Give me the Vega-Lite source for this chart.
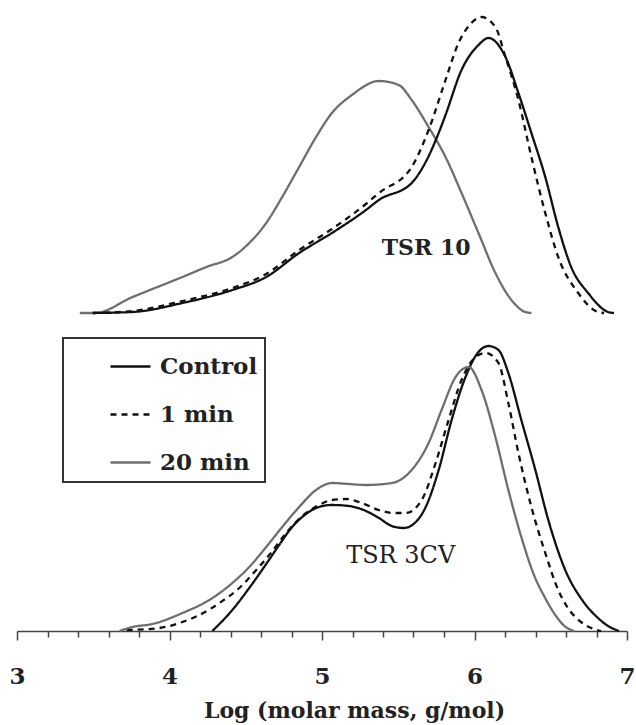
{
  "$schema": "https://vega.github.io/schema/vega-lite/v6.json",
  "width": 610,
  "height": 630,
  "autosize": {"type": "none"},
  "padding": {"left": 17, "top": 1, "right": 9, "bottom": 94},
  "background": "white",
  "datasets": {
    "curves": [
      {"sample": "TSR 10", "series": "20 min", "logM": 3.412, "signal": 3.18},
      {"sample": "TSR 10", "series": "20 min", "logM": 3.510, "signal": 3.18},
      {"sample": "TSR 10", "series": "20 min", "logM": 3.758, "signal": 3.34},
      {"sample": "TSR 10", "series": "20 min", "logM": 4.085, "signal": 3.54},
      {"sample": "TSR 10", "series": "20 min", "logM": 4.242, "signal": 3.64},
      {"sample": "TSR 10", "series": "20 min", "logM": 4.412, "signal": 3.74},
      {"sample": "TSR 10", "series": "20 min", "logM": 4.523, "signal": 3.88},
      {"sample": "TSR 10", "series": "20 min", "logM": 4.634, "signal": 4.08},
      {"sample": "TSR 10", "series": "20 min", "logM": 4.739, "signal": 4.34},
      {"sample": "TSR 10", "series": "20 min", "logM": 4.850, "signal": 4.64},
      {"sample": "TSR 10", "series": "20 min", "logM": 4.961, "signal": 4.94},
      {"sample": "TSR 10", "series": "20 min", "logM": 5.065, "signal": 5.18},
      {"sample": "TSR 10", "series": "20 min", "logM": 5.196, "signal": 5.36},
      {"sample": "TSR 10", "series": "20 min", "logM": 5.373, "signal": 5.50},
      {"sample": "TSR 10", "series": "20 min", "logM": 5.503, "signal": 5.46},
      {"sample": "TSR 10", "series": "20 min", "logM": 5.588, "signal": 5.31},
      {"sample": "TSR 10", "series": "20 min", "logM": 5.699, "signal": 5.04},
      {"sample": "TSR 10", "series": "20 min", "logM": 5.810, "signal": 4.74},
      {"sample": "TSR 10", "series": "20 min", "logM": 5.915, "signal": 4.38},
      {"sample": "TSR 10", "series": "20 min", "logM": 6.026, "signal": 3.98},
      {"sample": "TSR 10", "series": "20 min", "logM": 6.137, "signal": 3.58},
      {"sample": "TSR 10", "series": "20 min", "logM": 6.242, "signal": 3.31},
      {"sample": "TSR 10", "series": "20 min", "logM": 6.333, "signal": 3.19},
      {"sample": "TSR 10", "series": "20 min", "logM": 6.373, "signal": 3.18},

      {"sample": "TSR 10", "series": "Control", "logM": 3.497, "signal": 3.18},
      {"sample": "TSR 10", "series": "Control", "logM": 3.758, "signal": 3.19},
      {"sample": "TSR 10", "series": "Control", "logM": 4.085, "signal": 3.28},
      {"sample": "TSR 10", "series": "Control", "logM": 4.412, "signal": 3.41},
      {"sample": "TSR 10", "series": "Control", "logM": 4.634, "signal": 3.54},
      {"sample": "TSR 10", "series": "Control", "logM": 4.850, "signal": 3.78},
      {"sample": "TSR 10", "series": "Control", "logM": 5.065, "signal": 3.98},
      {"sample": "TSR 10", "series": "Control", "logM": 5.288, "signal": 4.21},
      {"sample": "TSR 10", "series": "Control", "logM": 5.373, "signal": 4.31},
      {"sample": "TSR 10", "series": "Control", "logM": 5.588, "signal": 4.48},
      {"sample": "TSR 10", "series": "Control", "logM": 5.680, "signal": 4.69},
      {"sample": "TSR 10", "series": "Control", "logM": 5.765, "signal": 4.98},
      {"sample": "TSR 10", "series": "Control", "logM": 5.810, "signal": 5.16},
      {"sample": "TSR 10", "series": "Control", "logM": 5.915, "signal": 5.61},
      {"sample": "TSR 10", "series": "Control", "logM": 6.026, "signal": 5.86},
      {"sample": "TSR 10", "series": "Control", "logM": 6.092, "signal": 5.93},
      {"sample": "TSR 10", "series": "Control", "logM": 6.203, "signal": 5.74},
      {"sample": "TSR 10", "series": "Control", "logM": 6.288, "signal": 5.38},
      {"sample": "TSR 10", "series": "Control", "logM": 6.373, "signal": 4.98},
      {"sample": "TSR 10", "series": "Control", "logM": 6.464, "signal": 4.54},
      {"sample": "TSR 10", "series": "Control", "logM": 6.549, "signal": 4.04},
      {"sample": "TSR 10", "series": "Control", "logM": 6.634, "signal": 3.64},
      {"sample": "TSR 10", "series": "Control", "logM": 6.745, "signal": 3.38},
      {"sample": "TSR 10", "series": "Control", "logM": 6.876, "signal": 3.19},
      {"sample": "TSR 10", "series": "Control", "logM": 6.915, "signal": 3.18},

      {"sample": "TSR 10", "series": "1 min", "logM": 3.497, "signal": 3.18},
      {"sample": "TSR 10", "series": "1 min", "logM": 3.758, "signal": 3.20},
      {"sample": "TSR 10", "series": "1 min", "logM": 4.085, "signal": 3.30},
      {"sample": "TSR 10", "series": "1 min", "logM": 4.412, "signal": 3.43},
      {"sample": "TSR 10", "series": "1 min", "logM": 4.634, "signal": 3.57},
      {"sample": "TSR 10", "series": "1 min", "logM": 4.850, "signal": 3.81},
      {"sample": "TSR 10", "series": "1 min", "logM": 5.065, "signal": 4.02},
      {"sample": "TSR 10", "series": "1 min", "logM": 5.288, "signal": 4.27},
      {"sample": "TSR 10", "series": "1 min", "logM": 5.373, "signal": 4.38},
      {"sample": "TSR 10", "series": "1 min", "logM": 5.588, "signal": 4.64},
      {"sample": "TSR 10", "series": "1 min", "logM": 5.699, "signal": 5.01},
      {"sample": "TSR 10", "series": "1 min", "logM": 5.810, "signal": 5.51},
      {"sample": "TSR 10", "series": "1 min", "logM": 5.895, "signal": 5.88},
      {"sample": "TSR 10", "series": "1 min", "logM": 5.980, "signal": 6.08},
      {"sample": "TSR 10", "series": "1 min", "logM": 6.046, "signal": 6.14},
      {"sample": "TSR 10", "series": "1 min", "logM": 6.137, "signal": 6.04},
      {"sample": "TSR 10", "series": "1 min", "logM": 6.203, "signal": 5.74},
      {"sample": "TSR 10", "series": "1 min", "logM": 6.288, "signal": 5.31},
      {"sample": "TSR 10", "series": "1 min", "logM": 6.373, "signal": 4.74},
      {"sample": "TSR 10", "series": "1 min", "logM": 6.464, "signal": 4.18},
      {"sample": "TSR 10", "series": "1 min", "logM": 6.549, "signal": 3.74},
      {"sample": "TSR 10", "series": "1 min", "logM": 6.680, "signal": 3.38},
      {"sample": "TSR 10", "series": "1 min", "logM": 6.810, "signal": 3.19},
      {"sample": "TSR 10", "series": "1 min", "logM": 6.850, "signal": 3.18},

      {"sample": "TSR 3CV", "series": "Control", "logM": 4.281, "signal": 0.00},
      {"sample": "TSR 3CV", "series": "Control", "logM": 4.412, "signal": 0.21},
      {"sample": "TSR 3CV", "series": "Control", "logM": 4.523, "signal": 0.43},
      {"sample": "TSR 3CV", "series": "Control", "logM": 4.634, "signal": 0.67},
      {"sample": "TSR 3CV", "series": "Control", "logM": 4.719, "signal": 0.86},
      {"sample": "TSR 3CV", "series": "Control", "logM": 4.804, "signal": 1.04},
      {"sample": "TSR 3CV", "series": "Control", "logM": 4.895, "signal": 1.17},
      {"sample": "TSR 3CV", "series": "Control", "logM": 4.980, "signal": 1.24},
      {"sample": "TSR 3CV", "series": "Control", "logM": 5.065, "signal": 1.26},
      {"sample": "TSR 3CV", "series": "Control", "logM": 5.176, "signal": 1.25},
      {"sample": "TSR 3CV", "series": "Control", "logM": 5.288, "signal": 1.20},
      {"sample": "TSR 3CV", "series": "Control", "logM": 5.373, "signal": 1.13},
      {"sample": "TSR 3CV", "series": "Control", "logM": 5.458, "signal": 1.05},
      {"sample": "TSR 3CV", "series": "Control", "logM": 5.536, "signal": 1.03},
      {"sample": "TSR 3CV", "series": "Control", "logM": 5.601, "signal": 1.07},
      {"sample": "TSR 3CV", "series": "Control", "logM": 5.680, "signal": 1.24},
      {"sample": "TSR 3CV", "series": "Control", "logM": 5.765, "signal": 1.61},
      {"sample": "TSR 3CV", "series": "Control", "logM": 5.850, "signal": 2.11},
      {"sample": "TSR 3CV", "series": "Control", "logM": 5.941, "signal": 2.54},
      {"sample": "TSR 3CV", "series": "Control", "logM": 6.026, "signal": 2.79},
      {"sample": "TSR 3CV", "series": "Control", "logM": 6.092, "signal": 2.85},
      {"sample": "TSR 3CV", "series": "Control", "logM": 6.157, "signal": 2.81},
      {"sample": "TSR 3CV", "series": "Control", "logM": 6.222, "signal": 2.58},
      {"sample": "TSR 3CV", "series": "Control", "logM": 6.307, "signal": 2.11},
      {"sample": "TSR 3CV", "series": "Control", "logM": 6.399, "signal": 1.61},
      {"sample": "TSR 3CV", "series": "Control", "logM": 6.484, "signal": 1.11},
      {"sample": "TSR 3CV", "series": "Control", "logM": 6.595, "signal": 0.61},
      {"sample": "TSR 3CV", "series": "Control", "logM": 6.706, "signal": 0.31},
      {"sample": "TSR 3CV", "series": "Control", "logM": 6.810, "signal": 0.13},
      {"sample": "TSR 3CV", "series": "Control", "logM": 6.876, "signal": 0.05},
      {"sample": "TSR 3CV", "series": "Control", "logM": 6.948, "signal": 0.00},

      {"sample": "TSR 3CV", "series": "1 min", "logM": 3.719, "signal": 0.01},
      {"sample": "TSR 3CV", "series": "1 min", "logM": 3.935, "signal": 0.03},
      {"sample": "TSR 3CV", "series": "1 min", "logM": 4.065, "signal": 0.08},
      {"sample": "TSR 3CV", "series": "1 min", "logM": 4.196, "signal": 0.16},
      {"sample": "TSR 3CV", "series": "1 min", "logM": 4.327, "signal": 0.28},
      {"sample": "TSR 3CV", "series": "1 min", "logM": 4.458, "signal": 0.43},
      {"sample": "TSR 3CV", "series": "1 min", "logM": 4.569, "signal": 0.61},
      {"sample": "TSR 3CV", "series": "1 min", "logM": 4.654, "signal": 0.76},
      {"sample": "TSR 3CV", "series": "1 min", "logM": 4.765, "signal": 0.98},
      {"sample": "TSR 3CV", "series": "1 min", "logM": 4.895, "signal": 1.18},
      {"sample": "TSR 3CV", "series": "1 min", "logM": 4.980, "signal": 1.26},
      {"sample": "TSR 3CV", "series": "1 min", "logM": 5.065, "signal": 1.31},
      {"sample": "TSR 3CV", "series": "1 min", "logM": 5.157, "signal": 1.32},
      {"sample": "TSR 3CV", "series": "1 min", "logM": 5.242, "signal": 1.29},
      {"sample": "TSR 3CV", "series": "1 min", "logM": 5.392, "signal": 1.20},
      {"sample": "TSR 3CV", "series": "1 min", "logM": 5.471, "signal": 1.18},
      {"sample": "TSR 3CV", "series": "1 min", "logM": 5.549, "signal": 1.18},
      {"sample": "TSR 3CV", "series": "1 min", "logM": 5.654, "signal": 1.31},
      {"sample": "TSR 3CV", "series": "1 min", "logM": 5.745, "signal": 1.68},
      {"sample": "TSR 3CV", "series": "1 min", "logM": 5.830, "signal": 2.11},
      {"sample": "TSR 3CV", "series": "1 min", "logM": 5.915, "signal": 2.51},
      {"sample": "TSR 3CV", "series": "1 min", "logM": 6.007, "signal": 2.74},
      {"sample": "TSR 3CV", "series": "1 min", "logM": 6.072, "signal": 2.78},
      {"sample": "TSR 3CV", "series": "1 min", "logM": 6.157, "signal": 2.68},
      {"sample": "TSR 3CV", "series": "1 min", "logM": 6.222, "signal": 2.28},
      {"sample": "TSR 3CV", "series": "1 min", "logM": 6.288, "signal": 1.78},
      {"sample": "TSR 3CV", "series": "1 min", "logM": 6.373, "signal": 1.24},
      {"sample": "TSR 3CV", "series": "1 min", "logM": 6.464, "signal": 0.78},
      {"sample": "TSR 3CV", "series": "1 min", "logM": 6.549, "signal": 0.41},
      {"sample": "TSR 3CV", "series": "1 min", "logM": 6.608, "signal": 0.24},
      {"sample": "TSR 3CV", "series": "1 min", "logM": 6.699, "signal": 0.09},
      {"sample": "TSR 3CV", "series": "1 min", "logM": 6.765, "signal": 0.03},
      {"sample": "TSR 3CV", "series": "1 min", "logM": 6.830, "signal": 0.00},

      {"sample": "TSR 3CV", "series": "20 min", "logM": 3.673, "signal": 0.00},
      {"sample": "TSR 3CV", "series": "20 min", "logM": 3.758, "signal": 0.04},
      {"sample": "TSR 3CV", "series": "20 min", "logM": 3.889, "signal": 0.07},
      {"sample": "TSR 3CV", "series": "20 min", "logM": 4.085, "signal": 0.18},
      {"sample": "TSR 3CV", "series": "20 min", "logM": 4.261, "signal": 0.31},
      {"sample": "TSR 3CV", "series": "20 min", "logM": 4.412, "signal": 0.48},
      {"sample": "TSR 3CV", "series": "20 min", "logM": 4.523, "signal": 0.64},
      {"sample": "TSR 3CV", "series": "20 min", "logM": 4.634, "signal": 0.84},
      {"sample": "TSR 3CV", "series": "20 min", "logM": 4.739, "signal": 1.04},
      {"sample": "TSR 3CV", "series": "20 min", "logM": 4.850, "signal": 1.24},
      {"sample": "TSR 3CV", "series": "20 min", "logM": 4.961, "signal": 1.41},
      {"sample": "TSR 3CV", "series": "20 min", "logM": 5.065, "signal": 1.48},
      {"sample": "TSR 3CV", "series": "20 min", "logM": 5.176, "signal": 1.47},
      {"sample": "TSR 3CV", "series": "20 min", "logM": 5.288, "signal": 1.46},
      {"sample": "TSR 3CV", "series": "20 min", "logM": 5.458, "signal": 1.48},
      {"sample": "TSR 3CV", "series": "20 min", "logM": 5.588, "signal": 1.61},
      {"sample": "TSR 3CV", "series": "20 min", "logM": 5.699, "signal": 1.88},
      {"sample": "TSR 3CV", "series": "20 min", "logM": 5.784, "signal": 2.21},
      {"sample": "TSR 3CV", "series": "20 min", "logM": 5.876, "signal": 2.54},
      {"sample": "TSR 3CV", "series": "20 min", "logM": 5.961, "signal": 2.64},
      {"sample": "TSR 3CV", "series": "20 min", "logM": 6.046, "signal": 2.41},
      {"sample": "TSR 3CV", "series": "20 min", "logM": 6.137, "signal": 1.94},
      {"sample": "TSR 3CV", "series": "20 min", "logM": 6.222, "signal": 1.41},
      {"sample": "TSR 3CV", "series": "20 min", "logM": 6.307, "signal": 0.94},
      {"sample": "TSR 3CV", "series": "20 min", "logM": 6.390, "signal": 0.56},
      {"sample": "TSR 3CV", "series": "20 min", "logM": 6.460, "signal": 0.34},
      {"sample": "TSR 3CV", "series": "20 min", "logM": 6.530, "signal": 0.16},
      {"sample": "TSR 3CV", "series": "20 min", "logM": 6.590, "signal": 0.05},
      {"sample": "TSR 3CV", "series": "20 min", "logM": 6.654, "signal": 0.00}
    ],
    "bold_labels": [
      {"logM": 5.683, "signal": 3.76, "text": "TSR 10"}
    ],
    "plain_labels": [
      {"logM": 5.516, "signal": 0.68, "text": "TSR 3CV"}
    ]
  },
  "layer": [
    {
      "data": {"name": "curves"},
      "mark": {"type": "line", "interpolate": "monotone", "strokeWidth": 2.3, "strokeCap": "butt"},
      "encoding": {
        "x": {
          "field": "logM",
          "type": "quantitative",
          "scale": {"domain": [3, 7], "nice": false, "zero": false},
          "axis": {
            "title": "Log (molar mass, g/mol)",
            "values": [3, 3.2, 3.4, 3.6, 3.8, 4, 4.2, 4.4, 4.6, 4.8, 5, 5.2, 5.4, 5.6, 5.8, 6, 6.2, 6.4, 6.6, 6.8, 7],
            "tickCount": 40,
            "labelExpr": "datum.value % 1 === 0 ? format(datum.value, 'd') : ''",
            "grid": false,
            "tickSize": {"condition": {"test": "datum.value % 1 === 0", "value": 9}, "value": 6},
            "tickWidth": 1.5,
            "tickColor": "#444",
            "domainColor": "#444",
            "domainWidth": 1.5,
            "labelFont": "DejaVu Serif",
            "labelFontWeight": "bold",
            "labelFontSize": 23,
            "labelColor": "#222",
            "labelPadding": 25,
            "labelOverlap": false,
            "labelFlush": false,
            "titleFont": "DejaVu Serif",
            "titleFontWeight": "bold",
            "titleFontSize": 22,
            "titleColor": "#222",
            "titleX": 337,
            "titleY": 86,
            "titleAlign": "center",
            "titleBaseline": "alphabetic"
          }
        },
        "y": {
          "field": "signal",
          "type": "quantitative",
          "scale": {"domain": [0, 6.3], "nice": false},
          "axis": null
        },
        "color": {
          "field": "series",
          "type": "nominal",
          "scale": {"domain": ["Control", "1 min", "20 min"], "range": ["#111111", "#111111", "#6e6e6e"]},
          "legend": {"title": null}
        },
        "strokeDash": {
          "field": "series",
          "type": "nominal",
          "scale": {"domain": ["Control", "1 min", "20 min"], "range": [[1, 0], [6, 5], [1, 0]]},
          "legend": {"title": null}
        },
        "detail": {"field": "sample", "type": "nominal"}
      }
    },
    {
      "data": {"name": "bold_labels"},
      "mark": {"type": "text", "font": "DejaVu Serif", "fontWeight": "bold", "fontSize": 22, "color": "#222", "align": "center", "baseline": "alphabetic"},
      "encoding": {
        "x": {"field": "logM", "type": "quantitative"},
        "y": {"field": "signal", "type": "quantitative"},
        "text": {"field": "text"}
      }
    },
    {
      "data": {"name": "plain_labels"},
      "mark": {"type": "text", "font": "DejaVu Serif", "fontSize": 24, "color": "#222", "align": "center", "baseline": "alphabetic"},
      "encoding": {
        "x": {"field": "logM", "type": "quantitative"},
        "y": {"field": "signal", "type": "quantitative"},
        "text": {"field": "text"}
      }
    }
  ],
  "config": {
    "view": {"stroke": null},
    "legend": {
      "orient": "none",
      "legendX": 46,
      "legendY": 337,
      "fillColor": "white",
      "strokeColor": "#333",
      "strokeWidth": 2,
      "padding": 7,
      "rowPadding": 14,
      "symbolType": "stroke",
      "symbolSize": 1600,
      "symbolStrokeWidth": 2.3,
      "symbolOffset": 39,
      "labelFont": "DejaVu Serif",
      "labelFontWeight": "bold",
      "labelFontSize": 23,
      "labelColor": "#222",
      "labelOffset": 8,
      "labelLimit": 400
    }
  }
}
